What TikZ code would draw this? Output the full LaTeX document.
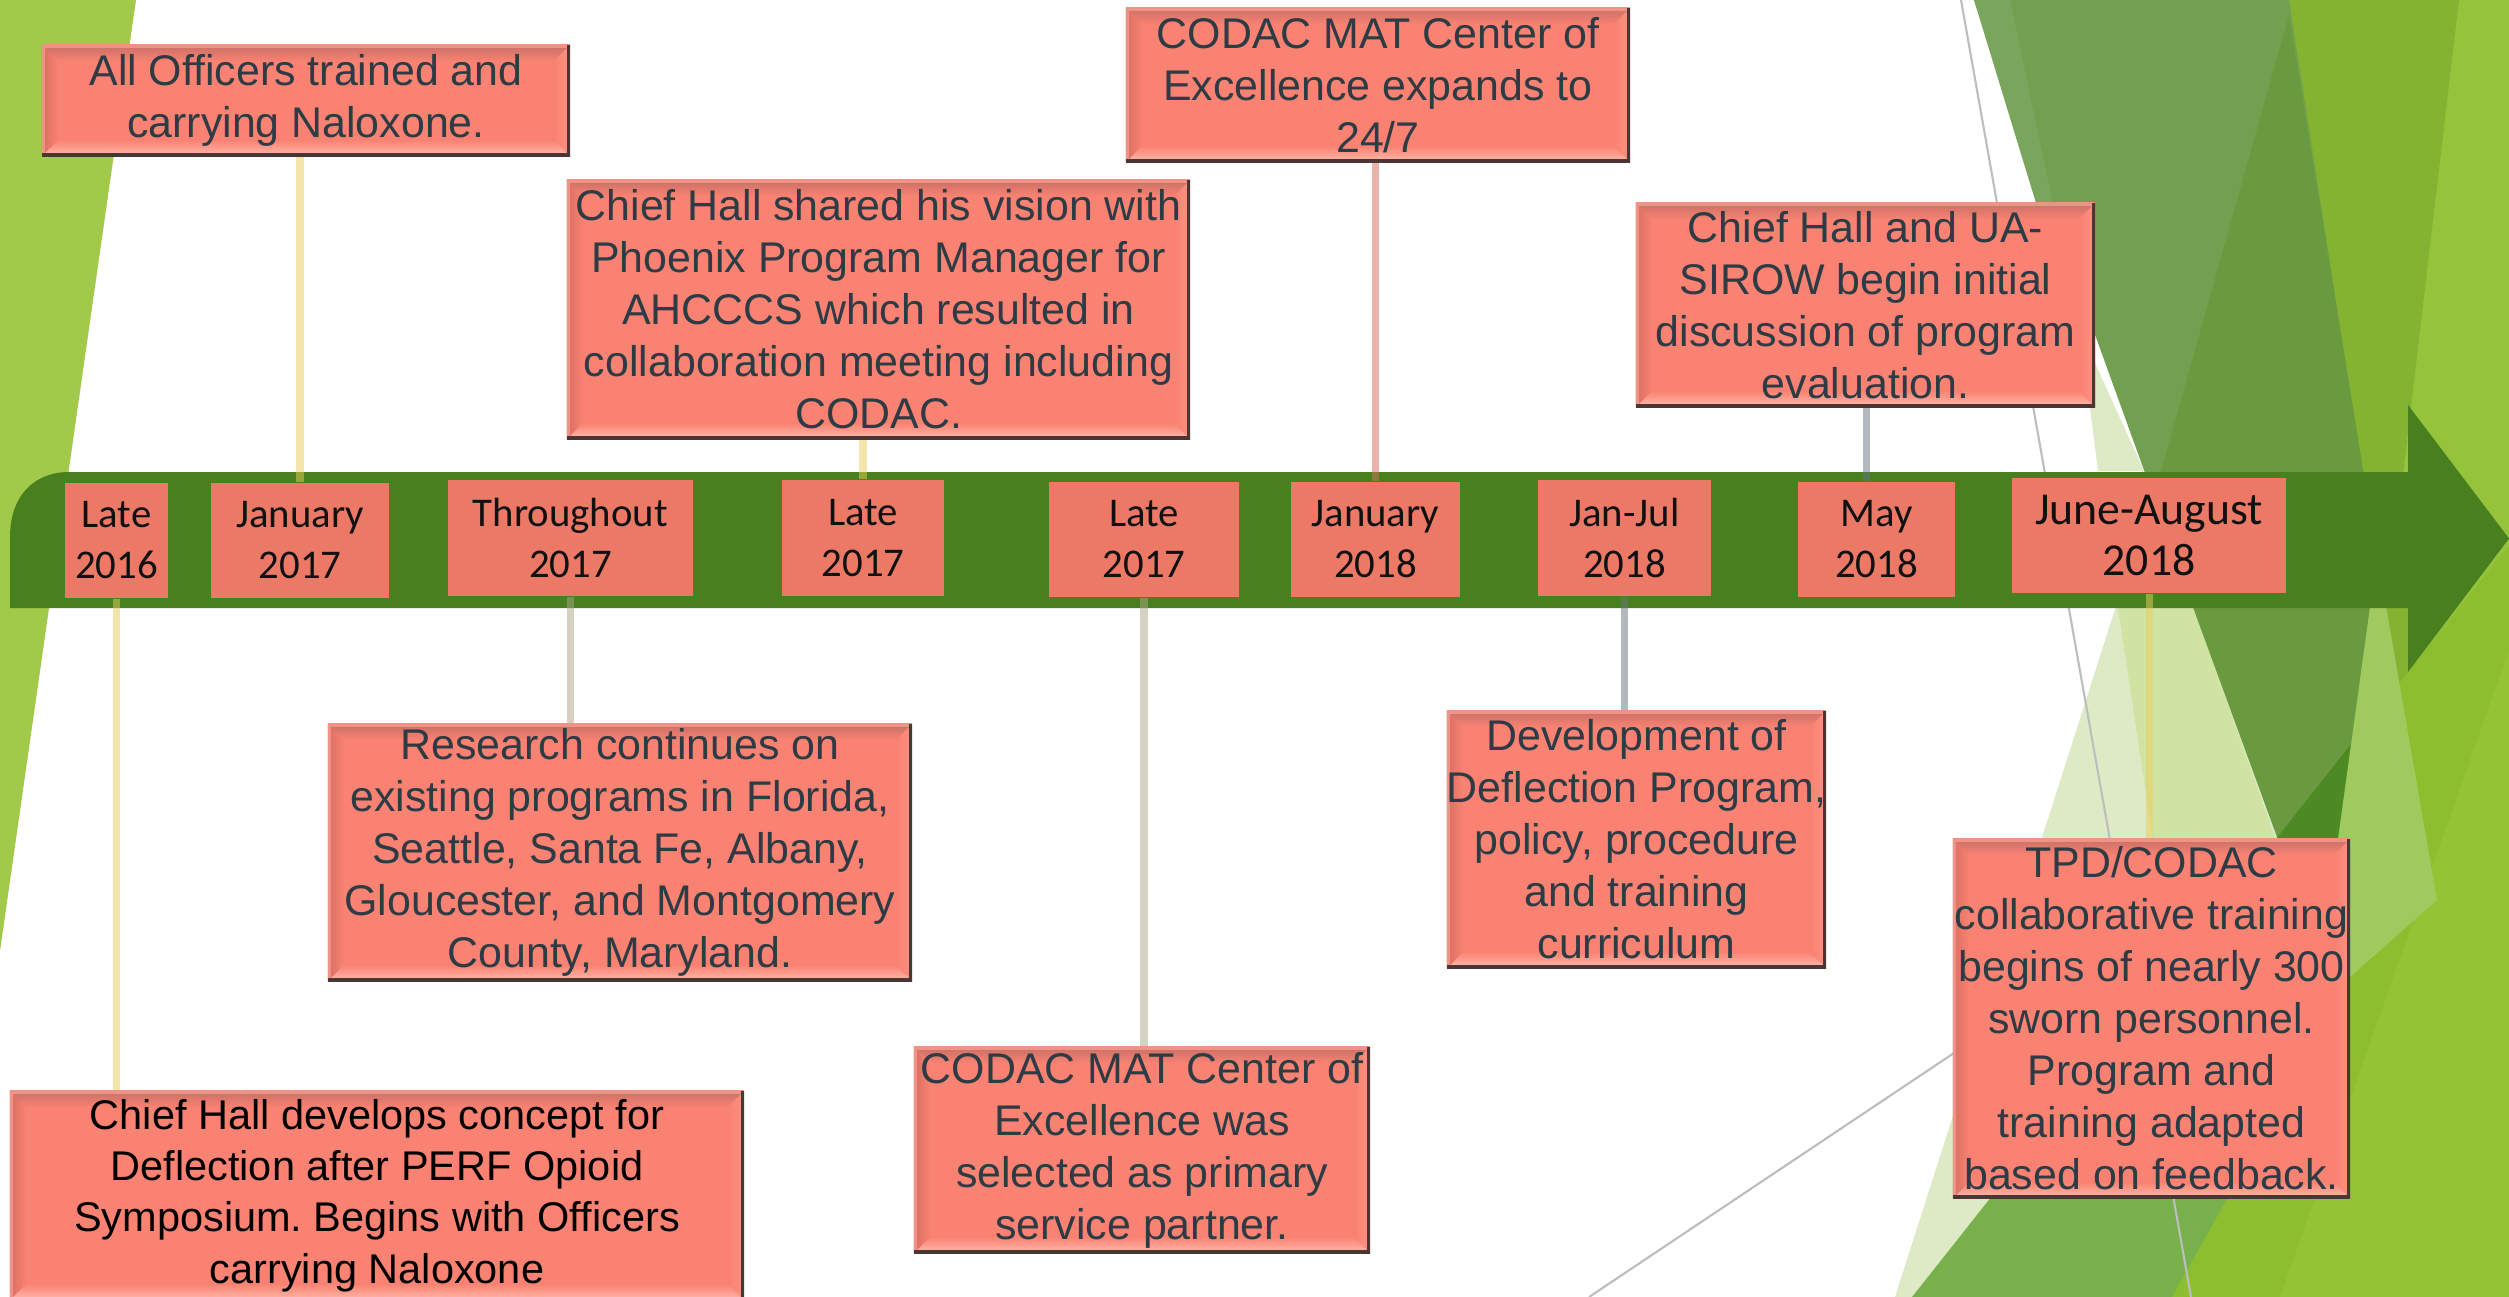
\documentclass[tikz,border=0pt]{standalone}
\usepackage{fontspec}
\setmainfont{Liberation Sans}
\newfontfamily\datefont{Carlito}
\frenchspacing
\usetikzlibrary{calc}
\pgfdeclarelayer{bglayer}
\pgfdeclarelayer{connlayer}
\pgfsetlayers{bglayer,connlayer,main}

\definecolor{leftgreen}{HTML}{A1C94A}
\definecolor{bandgreen}{HTML}{48801F}
\definecolor{datefill}{HTML}{EC7866}
\definecolor{datetext}{HTML}{111111}
\definecolor{boxfill}{HTML}{F98272}
\definecolor{bevtop}{HTML}{C96F66}
\definecolor{bevleft}{HTML}{D86F62}
\definecolor{bevright}{HTML}{FC9282}
\definecolor{bevbot}{HTML}{FFBAAB}
\definecolor{boxshadow}{HTML}{4A3634}
\definecolor{boxrim}{HTML}{EE9385}
\definecolor{slate}{HTML}{2C3B44}
\definecolor{ylw}{HTML}{EBCD59}
\definecolor{beige}{HTML}{ADA789}
\definecolor{pinkc}{HTML}{D76B5D}
\definecolor{grayc}{HTML}{67737B}
\definecolor{gLight}{HTML}{96C33C}
\definecolor{gYellow}{HTML}{84B231}
\definecolor{gMedLt}{HTML}{79A55C}
\definecolor{gMed}{HTML}{72A050}
\definecolor{gDark}{HTML}{6A9A40}
\definecolor{gDarker}{HTML}{4E8A24}
\definecolor{gPale}{HTML}{DDEAC5}
\definecolor{gPale2}{HTML}{D0E3A3}
\definecolor{gBottom}{HTML}{78B04C}
\definecolor{gSat}{HTML}{8DBE2F}
\definecolor{gSatLt}{HTML}{94C335}
\definecolor{gSoft}{HTML}{A0CA5E}
\definecolor{thinline}{HTML}{BDBDBD}

\newlength\bvw
\setlength\bvw{4.6pt}

\tikzset{
  evbox/.style={fill=boxfill, draw=none, align=center, text=slate, inner sep=0pt,
    font=\fontsize{12.2}{14.8}\selectfont,
    path picture={
      \coordinate (ppa) at (path picture bounding box.north west);
      \coordinate (ppb) at (path picture bounding box.north east);
      \coordinate (ppc) at (path picture bounding box.south east);
      \coordinate (ppd) at (path picture bounding box.south west);
      \shade[top color=bevtop, bottom color=boxfill] (ppa) -- (ppb) -- ([shift={(-\bvw,-\bvw)}]ppb) -- ([shift={(\bvw,-\bvw)}]ppa) -- cycle;
      \shade[bottom color=bevbot, top color=boxfill] (ppd) -- (ppc) -- ([shift={(-\bvw,\bvw)}]ppc) -- ([shift={(\bvw,\bvw)}]ppd) -- cycle;
      \shade[left color=bevleft, right color=boxfill] (ppa) -- ([shift={(\bvw,-\bvw)}]ppa) -- ([shift={(\bvw,\bvw)}]ppd) -- (ppd) -- cycle;
      \shade[right color=bevright, left color=boxfill] (ppb) -- ([shift={(-\bvw,-\bvw)}]ppb) -- ([shift={(-\bvw,\bvw)}]ppc) -- (ppc) -- cycle;
      \draw[boxrim, line width=1.6pt] (ppd) -- (ppa) -- (ppb);
      \draw[boxshadow, line width=1.8pt] (ppb) -- (ppc) -- (ppd);
    }},
  datebox/.style={fill=datefill, draw=none, align=center, text=datetext, inner sep=0pt,
    font=\datefont\fontsize{11.6}{14.5}\selectfont},
  conn/.style={line width=2pt, opacity=0.5},
}

\begin{document}
\begin{tikzpicture}[x=0.01cm, y=-0.01cm]
\useasboundingbox (0,0) rectangle (2509,1297);

% ---------- date boxes ----------
\node[datebox, minimum width=1.03cm, minimum height=1.15cm] (d1) at (116.5,540.5) {Late\\2016};
\node[datebox, minimum width=1.78cm, minimum height=1.15cm] (d2) at (300,540.5) {January\\2017};
\node[datebox, minimum width=2.45cm, minimum height=1.16cm] (d3) at (570.5,538) {Throughout\\2017};
\node[datebox, minimum width=1.62cm, minimum height=1.16cm] (d4) at (863,538) {Late\\2017};
\node[datebox, minimum width=1.90cm, minimum height=1.15cm] (d5) at (1144,539.5) {Late\\2017};
\node[datebox, minimum width=1.69cm, minimum height=1.15cm] (d6) at (1375.5,539.5) {January\\2018};
\node[datebox, minimum width=1.73cm, minimum height=1.16cm] (d7) at (1624.5,538) {Jan-Jul\\2018};
\node[datebox, minimum width=1.57cm, minimum height=1.15cm] (d8) at (1876.5,539.5) {May\\2018};
\node[datebox, minimum width=2.74cm, minimum height=1.15cm, font=\datefont\fontsize{13}{14.5}\selectfont] (d9) at (2149,535.5) {June-August\\2018};

% ---------- event boxes ----------
\node[evbox, minimum width=5.28cm, minimum height=1.11cm] (e1) at (306,100.5) {All Officers trained and\\carrying Naloxone.};
\node[evbox, minimum width=6.23cm, minimum height=2.59cm] (e2) at (878.5,309.5) {Chief Hall shared his vision with\\Phoenix Program Manager for\\AHCCCS which resulted in\\collaboration meeting including\\CODAC.};
\node[evbox, minimum width=5.04cm, minimum height=1.54cm] (e3) at (1378,85) {CODAC MAT Center of\\Excellence expands to\\24/7};
\node[evbox, minimum width=4.59cm, minimum height=2.04cm] (e4) at (1865.5,305) {Chief Hall and UA-\\SIROW begin initial\\discussion of program\\evaluation.};
\node[evbox, minimum width=5.84cm, minimum height=2.57cm] (e5) at (620,852.5) {Research continues on\\existing programs in Florida,\\Seattle, Santa Fe, Albany,\\Gloucester, and Montgomery\\County, Maryland.};
\node[evbox, minimum width=3.75cm, minimum height=2.57cm] (e6) at (1636.5,839.5) {Development of\\Deflection Program,\\policy, procedure\\and training\\curriculum};
\node[evbox, minimum width=4.56cm, minimum height=2.06cm] (e7) at (1142,1150) {CODAC MAT Center of\\Excellence was\\selected as primary\\service partner.};
\node[evbox, minimum width=7.34cm, minimum height=2.09cm, text=black, font=\fontsize{11.8}{14.6}\selectfont] (e8) at (377,1195.5) {Chief Hall develops concept for\\Deflection after PERF Opioid\\Symposium. Begins with Officers\\carrying Naloxone};
\node[evbox, minimum width=3.97cm, minimum height=3.59cm] (e9) at (2151.5,1018.5) {TPD/CODAC\\collaborative training\\begins of nearly 300\\sworn personnel.\\Program and\\training adapted\\based on feedback.};

% ---------- connectors ----------
\begin{pgfonlayer}{connlayer}
\draw[conn, ylw] (d1.south) -- (d1.south |- e8.north);
\draw[conn, ylw] (d2.north) -- (d2.north |- e1.south);
\draw[conn, beige] (d3.south) -- (d3.south |- e5.north);
\draw[conn, ylw] (d4.north) -- (d4.north |- e2.south);
\draw[conn, beige] (d5.south) -- (d5.south |- e7.north);
\draw[conn, pinkc] (d6.north) -- (d6.north |- e3.south);
\draw[conn, grayc] (d7.south) -- (d7.south |- e6.north);
\draw[conn, grayc] ([xshift=-0.1cm]d8.north) -- ([xshift=-0.1cm]d8.north |- e4.south);
\draw[conn, ylw] (d9.south) -- (d9.south |- e9.north);
\end{pgfonlayer}

% ---------- background ----------
\begin{pgfonlayer}{bglayer}
\fill[white] (0,0) rectangle (2509,1297);
\fill[leftgreen] (0,0) -- (136,0) -- (0,951) -- cycle;
% right facets, upper part
\fill[gLight] (2420,0) -- (2509,0) -- (2509,1297) -- (2230,1297) -- cycle;
\fill[gYellow] (2250,0) -- (2459,0) -- (2400,500) -- (2420,700) -- (2380,700) -- (2300,520) -- cycle;
\fill[gMed] (1974,0) -- (2289,0) -- (2370,520) -- (2162,520) -- cycle;
\fill[gMedLt] (1974,0) -- (2010,0) -- (2090,380) -- cycle;
\fill[gDark] (2289,15) -- (2368,500) -- (2153,500) -- cycle;
\fill[gPale] (2080,330) -- (2144,471) -- (2098,471) -- cycle;
% lower part
\fill[gSat] (2509,545) -- (2277,837) -- (1912,1297) -- (2509,1297) -- cycle;
\fill[gSatLt] (2509,650) -- (2509,1297) -- (2280,1297) -- cycle;
\fill[gPale] (2118,600) -- (2193,600) -- (2300,900) -- (1990,1297) -- (1895,1297) -- cycle;
\fill[gPale2] (2116,595) -- (2189,595) -- (2290,880) -- (2159,880) -- cycle;
\fill[gDark] (2183,580) -- (2374,580) -- (2330,900) -- (2300,900) -- cycle;
\fill[gDarker] (2351,744) -- (2330,900) -- (2228,900) -- cycle;
\fill[gBottom] (1912,1297) -- (2172,1297) -- (2360,960) -- (2250,870) -- cycle;
\fill[gSoft] (2378,560) -- (2437,900) -- (2350,977) -- (2319,977) -- (2370,607) -- cycle;
\draw[thinline, line width=0.6pt] (1961,0) -- (2191,1297);
\draw[thinline, line width=0.6pt] (1589,1297) -- (1954,1053);
% timeline arrow
\fill[bandgreen] (10,608) -- (10,537) .. controls (10,495) and (35,472) .. (69,472)
  -- (2408,472) -- (2408,405) -- (2509,538.5) -- (2408,672) -- (2408,608) -- cycle;
\end{pgfonlayer}
\end{tikzpicture}
\end{document}
